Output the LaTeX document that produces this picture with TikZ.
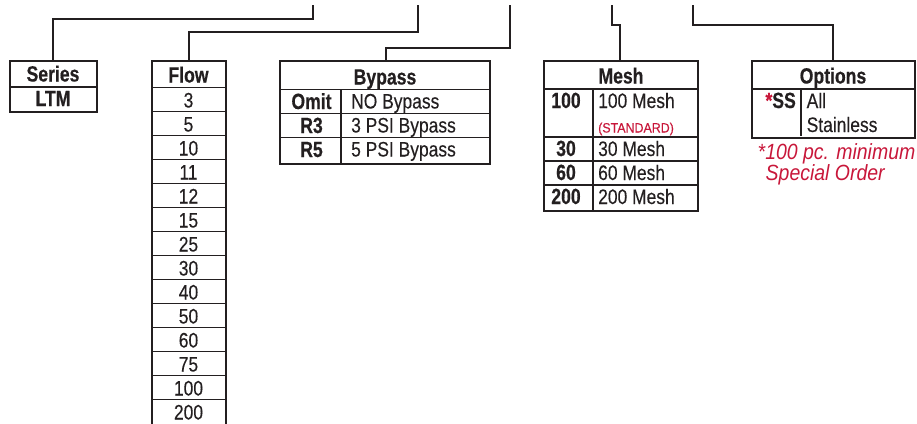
\documentclass[tikz,border=0pt]{standalone}
\usepackage{fontspec}
\setmainfont{Liberation Sans}
\newfontfamily\bfcond[FakeStretch=0.80,FakeBold=0.5]{Liberation Sans Bold}
\newfontfamily\rgcond[FakeStretch=0.83,FakeBold=0.25]{Liberation Sans}
\newfontfamily\stdcond[FakeStretch=0.92,FakeBold=0.25]{Liberation Sans}
\newfontfamily\itcond[FakeStretch=0.885]{Liberation Sans Italic}
\definecolor{ink}{HTML}{231F20}
\definecolor{accent}{HTML}{C8173A}
\tikzset{
  box/.style={draw=ink,line width=2pt,inner sep=0pt,outer sep=0pt,anchor=north west},
  rowline/.style={draw=ink,line width=1.6pt},
  link/.style={draw=ink,line width=2pt},
  bold/.style={font=\fontsize{22}{22}\bfcond,text=ink,inner sep=0pt},
  plain/.style={font=\fontsize{21}{22}\rgcond,text=ink,inner sep=0pt},
  plainw/.style={plain,anchor=base west},
  boldc/.style={bold,anchor=base},
  plainc/.style={plain,anchor=base},
  note/.style={font=\fontsize{22}{22}\itcond,text=accent,inner sep=0pt,anchor=base west},
  std/.style={font=\fontsize{13.5}{14}\stdcond,text=accent,inner sep=0pt,anchor=base west},
}
\begin{document}
\begin{tikzpicture}[x=1pt,y=-1pt]
\useasboundingbox (0,0) rectangle (917,423);
% boxes
\node[box,minimum width=87pt,minimum height=51.5pt] (series) at (9.5,60.5) {};
\node[box,minimum width=73.5pt,minimum height=365pt] (flow) at (152,60.5) {};
\node[box,minimum width=209.5pt,minimum height=103.5pt] (bypass) at (280,60.5) {};
\node[box,minimum width=154pt,minimum height=150pt] (mesh) at (544,61) {};
\node[box,minimum width=162.5pt,minimum height=76.5pt] (options) at (752,61) {};
% connector free ends
\coordinate (seriesC) at (313,19);   \coordinate (seriesT) at (313,5);
\coordinate (flowC) at (417.5,31.5); \coordinate (flowT) at (417.5,5);
\coordinate (bypassS) at (386,60);   \coordinate (bypassC) at (509.5,47.5); \coordinate (bypassT) at (509.5,5);
\coordinate (meshS) at (619.5,60);   \coordinate (meshC) at (612,24.5);     \coordinate (meshT) at (612,5);
\coordinate (optS) at (832.5,60);    \coordinate (optC) at (693,24.5);      \coordinate (optT) at (693,5);
\draw[link] (series.north) |- (seriesC) -- (seriesT);
\draw[link] (flow.north) |- (flowC) -- (flowT);
\draw[link] (bypassS) |- (bypassC) -- (bypassT);
\draw[link] (meshS) |- (meshC) -- (meshT);
\draw[link] (optS) |- (optC) -- (optT);
% series
\draw[rowline] (9.5,87) -- (96.5,87);
\node[boldc] (seriesH) at (53,81.5) {Series};
\node[boldc] (seriesV) at (53,106) {LTM};
% flow
\node[boldc] (flowH) at (188.5,82.5) {Flow};
\draw[rowline] (152,87.5) -- (225.5,87.5);
\foreach \v [count=\i from 0] in {3,5,10,11,12,15,25,30,40,50,60,75,100,200}{
  \node[plainc] (flow\i) at (188.5,107.5+24*\i) {\v};
  \ifnum\i>0 \draw[rowline,line width=1.3pt] (152,87.5+24*\i) -- (225.5,87.5+24*\i);\fi
}
% bypass
\node[boldc] (bypassH) at (385,84.5) {Bypass};
\draw[rowline] (280,89.5) -- (489.5,89.5);
\draw[rowline,line width=1.3pt] (280,113.5) -- (489.5,113.5);
\draw[rowline,line width=1.3pt] (280,137.5) -- (489.5,137.5);
\draw[rowline,line width=1.3pt] (341,89.5) -- (341,164);
\node[boldc] (b1) at (311.5,109) {Omit};
\node[boldc] (b2) at (311.5,133) {R3};
\node[boldc] (b3) at (311.5,157) {R5};
\node[plainw] (b1t) at (351,108.5) {NO Bypass};
\node[plainw] (b2t) at (351,132.5) {3 PSI Bypass};
\node[plainw] (b3t) at (351,156.5) {5 PSI Bypass};
% mesh
\node[boldc] (meshH) at (621,83.5) {Mesh};
\draw[rowline] (544,89) -- (698,89);
\draw[rowline,line width=1.3pt] (544,137) -- (698,137);
\draw[rowline,line width=1.3pt] (544,161) -- (698,161);
\draw[rowline,line width=1.3pt] (544,185) -- (698,185);
\draw[rowline,line width=1.3pt] (593,89) -- (593,211);
\node[boldc] (m1) at (566,108) {100};
\node[boldc] (m2) at (566,156) {30};
\node[boldc] (m3) at (566,180) {60};
\node[boldc] (m4) at (566,204) {200};
\node[plainw] (m1t) at (598,108) {100 Mesh};
\node[std] (m1s) at (598,132.5) {(STANDARD)};
\node[plainw] (m2t) at (598,156) {30 Mesh};
\node[plainw] (m3t) at (598,180) {60 Mesh};
\node[plainw] (m4t) at (598,204) {200 Mesh};
% options
\node[boldc] (optH) at (833,83.5) {Options};
\draw[rowline] (752,89) -- (914.5,89);
\draw[rowline,line width=1.3pt] (801,89) -- (801,136);
\node[bold,anchor=base east] (o1) at (796,108) {\textcolor{accent}{*}SS};
\node[plainw] (o1a) at (806.5,108) {All};
\node[plainw] (o1b) at (806.5,132) {Stainless};
% note
\node[note] (n1) at (757.5,159.5) {*100 pc. minimum};
\node[note] (n2) at (765.5,180.5) {Special Order};
\end{tikzpicture}
\end{document}
